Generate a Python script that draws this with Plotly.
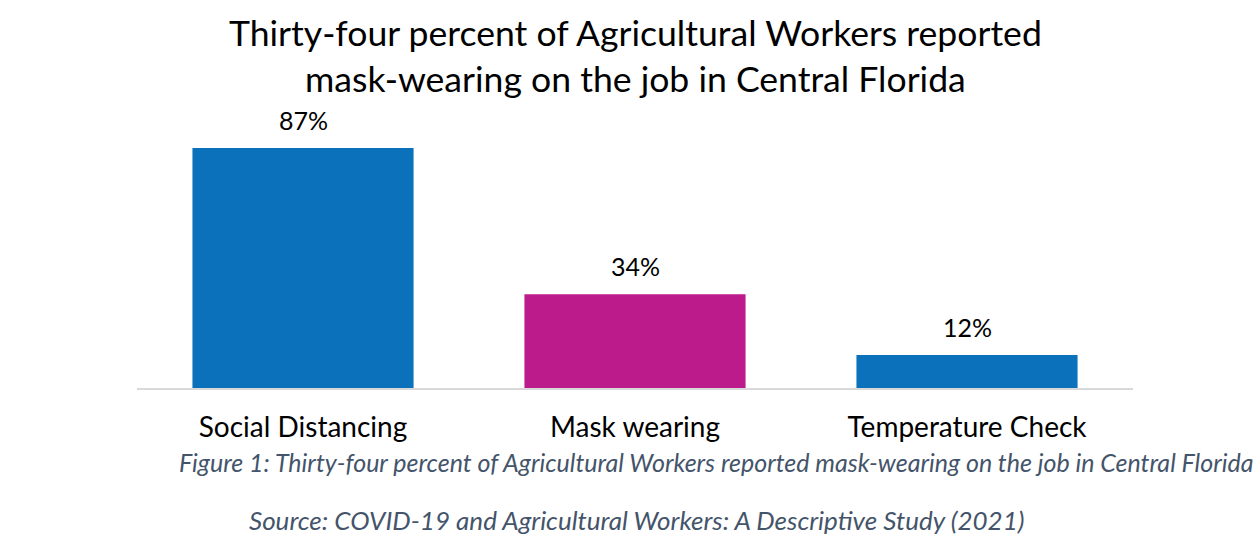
import plotly.graph_objects as go

categories = ["Social Distancing", "Mask wearing", "Temperature Check"]
values = [87, 34, 12]
labels = ["87%", "34%", "12%"]
colors = ["#0B71BA", "#BC1B8C", "#0B71BA"]

title_text = "Thirty-four percent of Agricultural Workers reported<br>mask-wearing on the job in Central Florida"
caption = "Figure 1: Thirty-four percent of Agricultural Workers reported mask-wearing on the job in Central Florida"
source = "Source: COVID-19 and Agricultural Workers: A Descriptive Study (2021)"

FONT = "Lato"
W, H = 1259, 535
ML, MR, MT, MB = 137, 126, 112, 147
PW, PH = W - ML - MR, H - MT - MB


def px(x):
    return (x - ML) / PW


def py(y):
    return (H - MB - y) / PH


fig = go.Figure(go.Bar(
    x=categories, y=values, marker_color=colors, marker_line_width=0,
))

for c, v, t in zip(categories, values, labels):
    fig.add_annotation(x=c, y=v, text=t, showarrow=False, yanchor="bottom",
                       yshift=11, font=dict(size=25, color="#000000", family=FONT))

fig.update_layout(
    width=W, height=H,
    margin=dict(l=ML, r=MR, t=MT, b=MB),
    paper_bgcolor="white", plot_bgcolor="white",
    bargap=0.334,
    showlegend=False,
    xaxis=dict(showgrid=False, showline=True, linecolor="#D9D9D9", linewidth=2,
               ticks="", tickfont=dict(size=28, color="#000000", family=FONT),
               ticklabelstandoff=13),
    yaxis=dict(range=[0, 100], visible=False),
)

fig.add_annotation(text=title_text, xref="paper", yref="paper",
                   x=px(635), y=py(55.5), xanchor="center", yanchor="middle", showarrow=False,
                   font=dict(size=35.6, color="#000000", family=FONT))
fig.add_annotation(text="<i>" + caption + "</i>", xref="paper", yref="paper",
                   x=px(177), y=py(462), xanchor="left", yanchor="middle", showarrow=False,
                   font=dict(size=25, color="#44546A", family=FONT))
fig.add_annotation(text="<i>" + source + "</i>", xref="paper", yref="paper",
                   x=px(636), y=py(520), xanchor="center", yanchor="middle", showarrow=False,
                   font=dict(size=26, color="#44546A", family=FONT))

fig.write_html("out.html")
